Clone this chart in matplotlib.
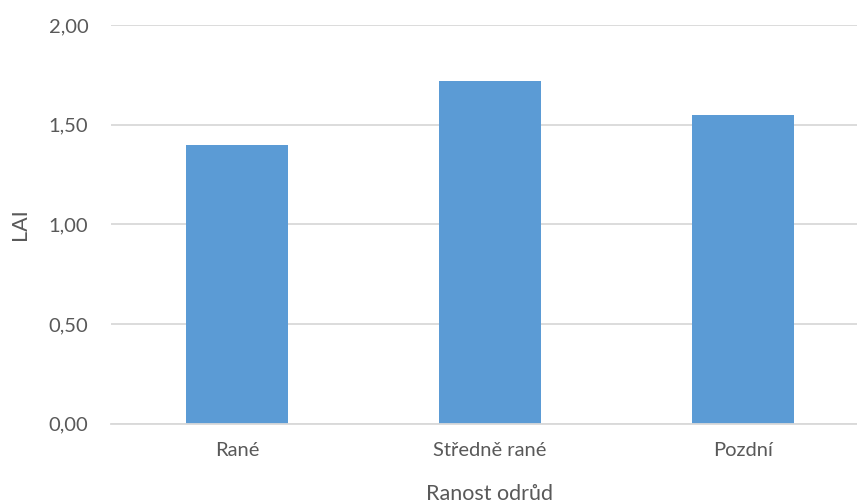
import matplotlib
matplotlib.use("Agg")
import matplotlib.pyplot as plt
from matplotlib.ticker import FuncFormatter

categories = ["Rané", "Středně rané", "Pozdní"]
lai_values = [1.40, 1.72, 1.55]
y_ticks = [0.0, 0.5, 1.0, 1.5, 2.0]

plt.rcParams["font.family"] = ["Lato", "DejaVu Sans"]
text_color = "#595959"
grid_color = "#D9D9D9"
bar_color = "#5B9BD5"

W, H = 857, 504
fig = plt.figure(figsize=(W / 100, H / 100), dpi=100)
left, right = 110.5, 869.5
top, bottom = 25, 423.5
ax = fig.add_axes([left / W, 1 - bottom / H, (right - left) / W, (bottom - top) / H])

x = range(len(categories))
ax.bar(x, lai_values, width=0.403, color=bar_color, zorder=3)

ax.set_xlim(-0.5, len(categories) - 0.5)
ax.set_ylim(0, 2.0)
ax.set_yticks(y_ticks)
ax.yaxis.set_major_formatter(FuncFormatter(lambda v, p: f"{v:.2f}".replace(".", ",")))
ax.set_xticks(list(x))
ax.set_xticklabels(categories)

ax.grid(axis="y", color=grid_color, linewidth=1.3, zorder=0)
for s in ["top", "right", "left"]:
    ax.spines[s].set_visible(False)
ax.spines["bottom"].set_color(grid_color)
ax.spines["bottom"].set_linewidth(1.3)
ax.spines["bottom"].set_zorder(4)

ax.tick_params(axis="y", length=0, pad=16, labelsize=14.5, labelcolor=text_color)
ax.tick_params(axis="x", length=0, pad=13, labelsize=14.5, labelcolor=text_color)

ax.set_ylabel("LAI", fontsize=15.5, color=text_color, labelpad=13)
ax.set_xlabel("Ranost odrůd", fontsize=15.5, color=text_color, labelpad=18)

fig.savefig("out.png", dpi=100)
